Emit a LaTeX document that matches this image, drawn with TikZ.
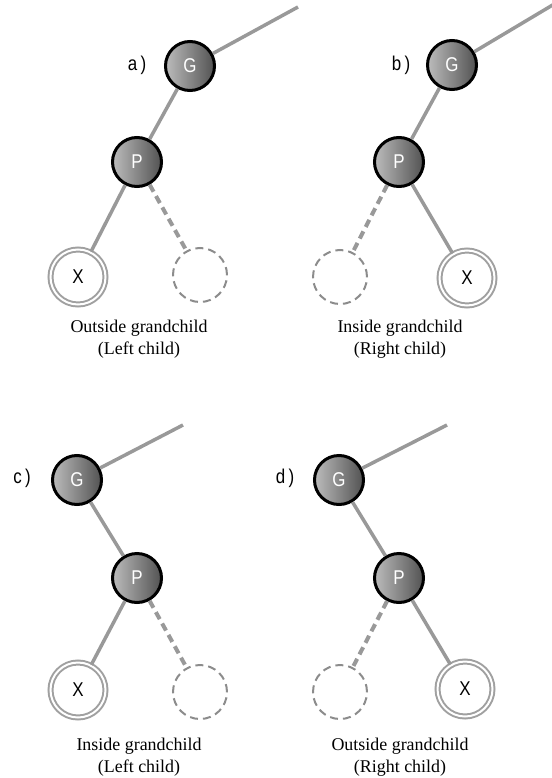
\documentclass[tikz,border=0pt]{standalone}
\usepackage{fontspec}
\setmainfont{Liberation Serif}
\newfontfamily\lettfont[FakeStretch=0.85]{Liberation Sans}
\usepackage{tikz}
\usetikzlibrary{positioning}

\definecolor{edgegray}{RGB}{153,153,153}
\definecolor{ringgray}{RGB}{160,160,160}
\definecolor{holegray}{RGB}{140,140,140}
\definecolor{ballhi}{RGB}{188,188,188}
\definecolor{balllo}{RGB}{82,82,82}

\begin{document}
\begin{tikzpicture}[
    x=1bp, y=-1bp,
    ball/.style={
        circle,
        draw=black,
        line width=3bp,
        minimum size=49bp,
        inner sep=0pt,
        left color=ballhi,
        right color=balllo,
        text=white,
        font=\lettfont\fontsize{20}{20}\selectfont
    },
    leaf/.style={
        circle,
        draw=ringgray,
        double=white,
        line width=2bp,
        double distance=2bp,
        minimum size=55bp,
        inner sep=0pt,
        font=\lettfont\fontsize{20}{20}\selectfont
    },
    hole/.style={
        circle,
        draw=holegray,
        line width=2bp,
        dash pattern=on 8bp off 5bp,
        minimum size=54bp,
        inner sep=0pt
    },
    edge/.style={
        draw=edgegray,
        line width=3.5bp
    },
    dedge/.style={
        edge,
        line width=4bp,
        dash pattern=on 8bp off 5bp
    },
    tag/.style={
        font=\lettfont\fontsize{20}{20}\selectfont
    },
    caption/.style={
        align=center,
        font=\fontsize{18}{22}\selectfont
    }
]
\useasboundingbox (0,0) rectangle (552,778);

% =========================================================
% (a) outside grandchild, left child
% =========================================================
\node[tag] (la) at (137,65) {a\,)};
\node[ball] (Ga) at (190,66) {G};
\node[ball] (Pa) at (137,162) {P};
\node[leaf] (Xa) at (78,277) {X};
\node[hole] (Ea) at (200,275) {};
\coordinate (ta) at (298,7);

\draw[edge] (Ga) -- (ta);
\draw[edge] (Ga) -- (Pa);
\draw[edge] (Pa) -- (Xa);
\draw[dedge] (Pa) -- (Ea);

\node[caption] (ca) at (139,339) {Outside grandchild\\(Left child)};

% =========================================================
% (b) inside grandchild, right child
% =========================================================
\node[tag] (lb) at (401,65) {b\,)};
\node[ball] (Gb) at (452,65) {G};
\node[ball] (Pb) at (399,162) {P};
\node[hole] (Eb) at (340,277) {};
\node[leaf] (Xb) at (467,278) {X};
\coordinate (tb) at (556,3);

\draw[edge] (Gb) -- (tb);
\draw[edge] (Gb) -- (Pb);
\draw[edge] (Pb) -- (Xb);
\draw[dedge] (Pb) -- (Eb);

\node[caption] (cb) at (400,339) {Inside grandchild\\(Right child)};

% =========================================================
% (c) inside grandchild, left child
% =========================================================
\node[tag] (lc) at (22,478) {c\,)};
\node[ball] (Gc) at (77,480) {G};
\node[ball] (Pc) at (137,578) {P};
\node[leaf] (Xc) at (78,690) {X};
\node[hole] (Ec) at (200,692) {};
\coordinate (tc) at (183,425);

\draw[edge] (Gc) -- (tc);
\draw[edge] (Gc) -- (Pc);
\draw[edge] (Pc) -- (Xc);
\draw[dedge] (Pc) -- (Ec);

\node[caption] (cc) at (139,757) {Inside grandchild\\(Left child)};

% =========================================================
% (d) outside grandchild, right child
% =========================================================
\node[tag] (ld) at (285,478) {d\,)};
\node[ball] (Gd) at (339,480) {G};
\node[ball] (Pd) at (399,578) {P};
\node[hole] (Ed) at (340,692) {};
\node[leaf] (Xd) at (465,689) {X};
\coordinate (td) at (447,425);

\draw[edge] (Gd) -- (td);
\draw[edge] (Gd) -- (Pd);
\draw[edge] (Pd) -- (Xd);
\draw[dedge] (Pd) -- (Ed);

\node[caption] (cd) at (400,757) {Outside grandchild\\(Right child)};

\end{tikzpicture}
\end{document}
